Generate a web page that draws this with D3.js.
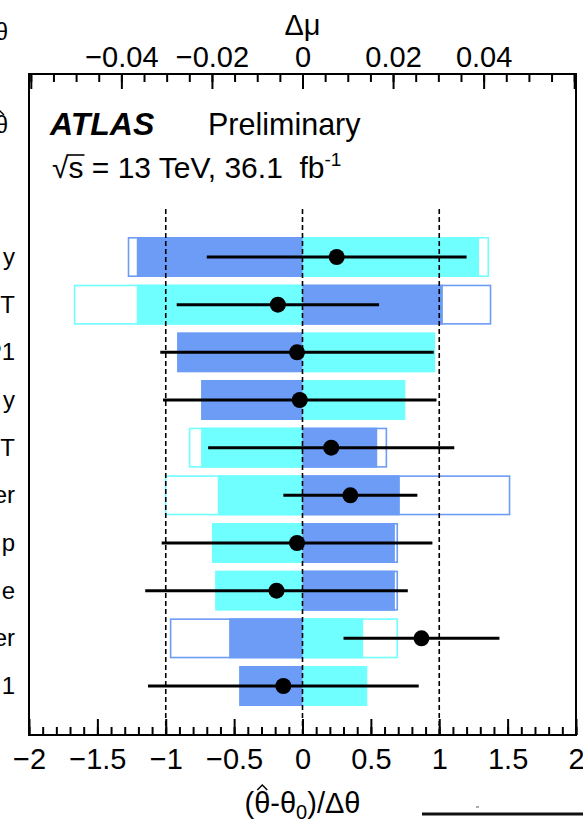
<!DOCTYPE html>
<html>
<head>
<meta charset="utf-8">
<script src="https://cdn.jsdelivr.net/npm/d3@7"></script>
<style>
  html, body { margin: 0; padding: 0; background: #fff; }
  svg { display: block; }
  text { font-family: "Liberation Sans", Arial, Helvetica, sans-serif; fill: #000; }
</style>
</head>
<body>
<svg id="chart" width="583" height="823"></svg>
<script>
// Nuisance-parameter ranking: visible tails of the parameter names (top to bottom)
const labels = ["y", "T", "P1", "y", "T", "er", "p", "e", "er", "1"];

// Post-fit impact on mu for the +1 sigma (cyan) and -1 sigma (blue) variations
const postUp   = [ 0.0390, -0.0366,  0.0293,  0.0227, -0.0224, -0.0187, -0.0200, -0.0193,  0.0134,  0.0143];
const postDown = [-0.0366,  0.0310, -0.0277, -0.0224,  0.0165,  0.0215,  0.0204,  0.0204, -0.0162, -0.0140];

// Pre-fit impact (outlined boxes); null where it lies inside the post-fit bar
const preUp   = [ 0.0412, -0.0505, null, null, -0.0251, -0.0304, null, null,  0.0211, null];
const preDown = [-0.0386,  0.0417, null, null,  0.0187,  0.0459,  0.0211,  0.0211, -0.0293, null];

// Pulls (theta_hat - theta_0)/delta_theta and their errors
const pull    = [0.25, -0.18, -0.04, -0.02, 0.21, 0.35, -0.04, -0.19, 0.87, -0.14];
const pullErr = [0.95,  0.74,  1.00,  1.00, 0.90, 0.49,  0.99,  0.96, 0.57,  0.99];

// Axis ticks
const pullTicks = [-2, -1.5, -1, -0.5, 0, 0.5, 1, 1.5, 2];
const muTicks = [-0.06, -0.04, -0.02, 0, 0.02, 0.04, 0.06];
const muLabelled = [-0.04, -0.02, 0, 0.02, 0.04];

const BLUE = "#6c9cf6";
const CYAN = "#70ffff";

const svg = d3.select("#chart");

const frame = { left: 29, right: 576, top: 74, bottom: 735 };

const x = d3.scaleLinear().domain([-2, 2]).range([frame.left, frame.right]);
const xMu = d3.scaleLinear().domain([-0.0604, 0.0604]).range([frame.left, frame.right]);
const y = d3.scalePoint().domain(d3.range(labels.length)).range([257, 686]);
const barH = 40;

// Small circumflex drawn above a glyph centred at cx, with the glyph top at yTop
function hat(cx, yTop, w) {
  svg.append("path")
    .attr("d", `M${cx - w},${yTop - 1} L${cx},${yTop - w - 1} L${cx + w},${yTop - 1}`)
    .attr("fill", "none").attr("stroke", "#000").attr("stroke-width", 1.5);
}

// Pre-fit outlines first, so post-fit fills sit on top
const sw = 1.6;
function preRect(v, color, i) {
  if (v === null) return;
  const x0 = Math.min(xMu(0), xMu(v)), x1 = Math.max(xMu(0), xMu(v));
  svg.append("rect")
    .attr("x", x0 + sw / 2).attr("y", y(i) - barH / 2 + sw / 2)
    .attr("width", x1 - x0 - sw).attr("height", barH - sw)
    .attr("fill", "#fff").attr("stroke", color).attr("stroke-width", sw);
}
labels.forEach((_, i) => {
  preRect(preUp[i], CYAN, i);
  preRect(preDown[i], BLUE, i);
});

function postRect(v, color, i) {
  const x0 = Math.min(xMu(0), xMu(v)), x1 = Math.max(xMu(0), xMu(v));
  svg.append("rect")
    .attr("x", x0).attr("y", y(i) - barH / 2)
    .attr("width", x1 - x0).attr("height", barH)
    .attr("fill", color);
}
labels.forEach((_, i) => {
  postRect(postUp[i], CYAN, i);
  postRect(postDown[i], BLUE, i);
});

// Reference lines at -1, 0, +1
svg.append("g").selectAll("line").data([-1, 0, 1]).join("line")
  .attr("x1", d => x(d)).attr("x2", d => x(d))
  .attr("y1", 209).attr("y2", frame.bottom)
  .attr("stroke", "#000").attr("stroke-width", 1.6)
  .attr("stroke-dasharray", "5,3");

// Pulls with error bars
const pulls = svg.append("g");
pulls.selectAll("line").data(pull).join("line")
  .attr("x1", (d, i) => x(d - pullErr[i])).attr("x2", (d, i) => x(d + pullErr[i]))
  .attr("y1", (d, i) => y(i)).attr("y2", (d, i) => y(i))
  .attr("stroke", "#000").attr("stroke-width", 3);
pulls.selectAll("circle").data(pull).join("circle")
  .attr("cx", d => x(d)).attr("cy", (d, i) => y(i)).attr("r", 8)
  .attr("fill", "#000");

// Frame
svg.append("rect")
  .attr("x", frame.left).attr("y", frame.top)
  .attr("width", frame.right - frame.left).attr("height", frame.bottom - frame.top)
  .attr("fill", "none").attr("stroke", "#000").attr("stroke-width", 2);

// Bottom axis (ticks pointing inwards)
const bottomMinor = d3.axisBottom(x).tickValues(d3.range(-20, 21).map(d => d / 10))
  .tickSizeInner(-8).tickSizeOuter(0).tickFormat("");
const bottomMajor = d3.axisBottom(x).tickValues(pullTicks)
  .tickSizeInner(-16).tickSizeOuter(0).tickPadding(13)
  .tickFormat(d3.format("~g"));
[bottomMinor, bottomMajor].forEach(ax => {
  const g = svg.append("g").attr("transform", `translate(0,${frame.bottom})`).call(ax);
  g.select(".domain").remove();
  g.selectAll(".tick line").attr("stroke", "#000").attr("stroke-width", 2);
  g.selectAll(".tick text").attr("font-size", 29)
    .attr("font-family", "Liberation Sans, Arial, sans-serif");
});

// Top axis for the impact on mu
const topMinor = d3.axisTop(xMu).tickValues(d3.range(-12, 13).map(d => d * 0.005))
  .tickSizeInner(-8).tickSizeOuter(0).tickFormat("");
const topMajor = d3.axisTop(xMu).tickValues(muTicks)
  .tickSizeInner(-15).tickSizeOuter(0).tickPadding(7)
  .tickFormat(d => muLabelled.some(v => Math.abs(v - d) < 1e-9) ? d3.format("~g")(d) : "");
[topMinor, topMajor].forEach(ax => {
  const g = svg.append("g").attr("transform", `translate(0,${frame.top})`).call(ax);
  g.select(".domain").remove();
  g.selectAll(".tick line").attr("stroke", "#000").attr("stroke-width", 2);
  g.selectAll(".tick text").attr("font-size", 29)
    .attr("font-family", "Liberation Sans, Arial, sans-serif");
});

// Axis titles
svg.append("text").attr("x", xMu(0)).attr("y", 35)
  .attr("text-anchor", "middle").attr("font-size", 29).text("Δμ");

const xt = svg.append("text").attr("x", x(0)).attr("y", 813)
  .attr("text-anchor", "middle").attr("font-size", 29);
xt.append("tspan").text("(θ-θ");
xt.append("tspan").attr("font-size", 20).attr("dy", 6).text("0");
xt.append("tspan").attr("dy", -6).text(")/Δθ");
{
  const node = xt.node();
  const bb = node.getBBox();
  const xStart = bb.x;
  const cx = xStart + node.getSubStringLength(0, 1) + node.getSubStringLength(1, 1) / 2;
  hat(cx, 813 - 22, 5);
}

// Parameter names (cut at the left edge)
svg.append("g").selectAll("text").data(labels).join("text")
  .attr("x", 15).attr("y", (d, i) => y(i) + 8)
  .attr("text-anchor", "end").attr("font-size", 24)
  .text(d => d);

// Legend symbols at the left edge
svg.append("text").attr("x", 8).attr("y", 40).attr("text-anchor", "end")
  .attr("font-size", 23).text("θ");
svg.append("text").attr("x", 8).attr("y", 133).attr("text-anchor", "end")
  .attr("font-size", 23).text("θ");
hat(0, 133 - 17, 4);

// ATLAS label
svg.append("text").attr("x", 50).attr("y", 135).attr("font-size", 32)
  .attr("font-weight", "bold").attr("font-style", "italic").text("ATLAS");
svg.append("text").attr("x", 208).attr("y", 135).attr("font-size", 30.5).text("Preliminary");

const lumi = svg.append("text").attr("x", 52).attr("y", 178).attr("font-size", 30)
  .style("white-space", "pre");
lumi.append("tspan").text("√");
lumi.append("tspan").text("s = 13 TeV, 36.1  fb");
lumi.append("tspan").attr("font-size", 19).attr("dy", -12).text("-1");
// overline of the square root
{
  const node = lumi.node();
  const rootW = node.getSubStringLength(0, 1);
  const sW = node.getSubStringLength(1, 1);
  svg.append("line")
    .attr("x1", 52 + rootW - 1).attr("x2", 52 + rootW + sW + 1)
    .attr("y1", 155).attr("y2", 155)
    .attr("stroke", "#000").attr("stroke-width", 1.6);
}

// Line entering from the neighbouring panel at the bottom right
svg.append("line").attr("x1", 422).attr("x2", 583).attr("y1", 814).attr("y2", 814)
  .attr("stroke", "#111").attr("stroke-width", 3);
svg.append("line").attr("x1", 476).attr("x2", 479).attr("y1", 807).attr("y2", 807)
  .attr("stroke", "#555").attr("stroke-width", 1);
</script>
</body>
</html>
